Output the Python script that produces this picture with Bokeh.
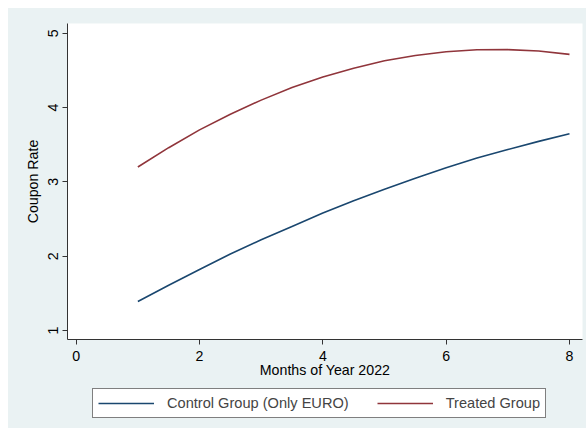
from bokeh.plotting import figure
from bokeh.models import FixedTicker, Range1d
from bokeh.layouts import column
from bokeh.embed import file_html
from bokeh.resources import INLINE

# Data
months = [1, 1.5, 2, 2.5, 3, 3.5, 4, 4.5, 5, 5.5, 6, 6.5, 7, 7.5, 8]
control = [1.39, 1.61, 1.82, 2.03, 2.22, 2.40, 2.58, 2.745, 2.90, 3.05, 3.19, 3.32, 3.435, 3.545, 3.647]
treated = [3.20, 3.46, 3.70, 3.91, 4.10, 4.27, 4.41, 4.53, 4.63, 4.70, 4.75, 4.778, 4.78, 4.76, 4.715]
x_ticks = [0, 2, 4, 6, 8]
y_ticks = [1, 2, 3, 4, 5]
series_names = ["Control Group (Only EURO)", "Treated Group"]
series_colors = ["#1a476f", "#90353b"]

FONT = "Liberation Sans"
BG = "#eaf2f3"

# main chart
p = figure(width=578, height=375, output_backend="svg", toolbar_location=None,
           x_range=Range1d(-0.141, 8.211), y_range=Range1d(0.879, 5.131),
           min_border_left=59, min_border_right=4, min_border_top=15, min_border_bottom=44)

p.background_fill_color = "white"
p.border_fill_color = BG
p.outline_line_color = None
p.xgrid.visible = False
p.ygrid.visible = False

p.line(months, control, line_color=series_colors[0], line_width=1.6)
p.line(months, treated, line_color=series_colors[1], line_width=1.6)

for ax in (p.xaxis[0], p.yaxis[0]):
    ax.axis_line_color = "#333333"
    ax.major_tick_line_color = "#333333"
    ax.minor_tick_line_color = None
    ax.major_tick_out = 5
    ax.major_tick_in = 0
    ax.major_label_text_font = FONT
    ax.major_label_text_font_size = "14.2px"
    ax.major_label_text_color = "black"
    ax.axis_label_text_font = FONT
    ax.axis_label_text_font_size = "14.2px"
    ax.axis_label_text_font_style = "normal"
    ax.axis_label_text_color = "black"

p.xaxis.ticker = FixedTicker(ticks=x_ticks)
p.yaxis.ticker = FixedTicker(ticks=y_ticks)
p.xaxis.axis_label = "Months of Year 2022"
p.yaxis.axis_label = "Coupon Rate"
p.yaxis.major_label_orientation = "vertical"
p.xaxis.major_label_standoff = 6
p.xaxis.axis_label_standoff = -2
p.yaxis.major_label_standoff = 4
p.yaxis.axis_label_standoff = 5

# legend strip below the chart (its series lie outside its visible range;
# only the legend is shown)
p2 = figure(width=578, height=45, output_backend="svg", toolbar_location=None,
            x_axis_type=None, y_axis_type=None,
            x_range=Range1d(-30, -20), y_range=Range1d(-30, -20),
            min_border_left=59, min_border_right=4, min_border_top=0, min_border_bottom=0)
p2.background_fill_color = BG
p2.border_fill_color = BG
p2.outline_line_color = None
p2.xgrid.visible = False
p2.ygrid.visible = False
for name, col, vals in zip(series_names, series_colors, [control, treated]):
    p2.line(months, vals, line_color=col, line_width=1.6, legend_label=name)

lg = p2.legend[0]
lg.orientation = "horizontal"
lg.location = (25, 10)
lg.glyph_width = 56
lg.glyph_height = 18
lg.label_height = 18
lg.label_standoff = 13
lg.spacing = 28
lg.padding = 5
lg.margin = 0
lg.border_line_color = "black"
lg.border_line_width = 1
lg.background_fill_color = "white"
lg.background_fill_alpha = 1
lg.label_text_font = FONT
lg.label_text_font_size = "14.6px"

layout = column(p, p2, spacing=0)
layout.margin = (8, 0, 0, 8)
layout.styles = {"background-color": BG}

open("out.html", "w").write(file_html(layout, INLINE))
